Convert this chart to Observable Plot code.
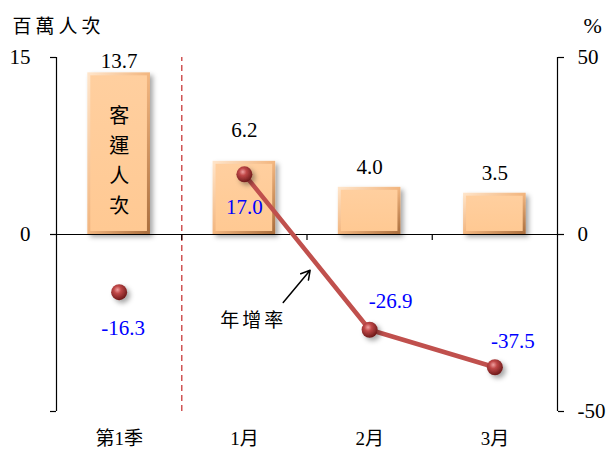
<!DOCTYPE html>
<html>
<head>
<meta charset="utf-8">
<script src="https://cdn.jsdelivr.net/npm/d3@7"></script>
<script src="https://cdn.jsdelivr.net/npm/@observablehq/plot@0.6"></script>
<style>
  html, body { margin: 0; padding: 0; background: #fff; }
  #chart svg { display: block; }
</style>
</head>
<body>
<div id="chart"></div>
<script>
// ---- data ----
const categories = ["第1季", "1月", "2月", "3月"];
const passengers = [13.7, 6.2, 4.0, 3.5];      // 百萬人次 (left axis)
const growth = [-16.3, 17.0, -26.9, -37.5];     // 年增率 % (right axis)
const leftTicks = [15, 0, -15];
const rightTicks = [50, 0, -50];
const annotationText = "年增率";
const barText = "客運人次";
const leftUnit = "百萬人次";
const rightUnit = "%";

// ---- helpers ----
const leftMax = 15, rightMax = 50;
const pct = p => p * leftMax / rightMax;        // map % onto the left scale
const serif = "Liberation Serif, Times New Roman, serif";
const cjk = "Liberation Serif, Noto Sans CJK TC, serif";

const rows = categories.map((c, i) => ({c, i, v: passengers[i], g: growth[i], gy: pct(growth[i])}));
const lineRows = rows.slice(1);
const boundaries = d3.range(1, categories.length).map(i => i - 0.5);

const numLabel = {fontFamily: serif, fontSize: 21, fill: "black"};
const pctLabel = {fontFamily: serif, fontSize: 21, fill: "#0000FF"};

const chart = Plot.plot({
  width: 613,
  height: 450,
  marginLeft: 56,
  marginRight: 56,
  marginTop: 57,
  marginBottom: 39,
  x: {domain: [-0.5, categories.length - 0.5], axis: null},
  y: {domain: [-leftMax, leftMax], axis: null},
  marks: [
    // divider between quarter and months
    Plot.ruleX([boundaries[0]], {y1: -leftMax, y2: leftMax, stroke: "#d05555", strokeWidth: 1.5, strokeDasharray: "6,4"}),
    // bars: bevel edge + face
    Plot.rectY(rows, {x1: d => d.i - 0.25, x2: d => d.i + 0.25, y1: 0, y2: "v", fill: "url(#barEdge)"}),
    Plot.rectY(rows, {x1: d => d.i - 0.25, x2: d => d.i + 0.25, y1: 0, y2: "v", inset: 3, fill: "url(#barFace)"}),
    // axes lines
    Plot.ruleY([0], {stroke: "black", strokeWidth: 1.2}),
    Plot.ruleX(boundaries, {y1: 0, y2: -0.5, stroke: "black", strokeWidth: 1.2}),
    Plot.ruleX([-0.5, categories.length - 0.5], {y1: -leftMax, y2: leftMax, stroke: "black", strokeWidth: 1.2}),
    Plot.axisY({anchor: "left", ticks: leftTicks, tickFormat: d => d === -leftMax ? "" : String(d), tickSize: 6, tickPadding: 20, fontSize: 21, fontFamily: serif, label: null, strokeWidth: 1.2}),
    Plot.axisY({anchor: "right", ticks: rightTicks.map(pct), tickFormat: d => String(Math.round(d * rightMax / leftMax)), tickSize: 6, tickPadding: 14, fontSize: 21, fontFamily: serif, label: null, strokeWidth: 1.2}),
    Plot.axisX({ticks: d3.range(categories.length), tickFormat: i => categories[i], tickSize: 0, tickPadding: 20, fontSize: 19, fontFamily: cjk, label: null}),
    // bar value labels
    Plot.text(rows.filter(d => d.i === 0), {x: "i", y: "v", text: d => d.v.toFixed(1), dy: -12, ...numLabel}),
    Plot.text(rows.filter(d => d.i === 1), {x: "i", y: "v", text: d => d.v.toFixed(1), dy: -31, ...numLabel}),
    Plot.text(rows.filter(d => d.i > 1), {x: "i", y: "v", text: d => d.v.toFixed(1), dy: -20, ...numLabel}),
    // vertical text inside first bar
    Plot.text([rows[0]], {x: "i", y: d => d.v * 0.47, text: () => barText.split("").join("\n"), lineHeight: 1.5, fontSize: 20, fontFamily: cjk, fill: "black"}),
    // growth line & points
    Plot.line(lineRows, {x: "i", y: "gy", stroke: "#C0504D", strokeWidth: 4.5}),
    Plot.dot(rows, {x: "i", y: "gy", r: 8, fill: "url(#sphere)", stroke: "none"}),
    // growth labels
    Plot.text(rows.filter(d => d.i === 0), {x: "i", y: "gy", text: d => d.g.toFixed(1), dx: 4, dy: 36, ...pctLabel}),
    Plot.text(rows.filter(d => d.i === 1), {x: "i", y: "gy", text: d => d.g.toFixed(1), dx: 0, dy: 33, ...pctLabel}),
    Plot.text(rows.filter(d => d.i === 2), {x: "i", y: "gy", text: d => d.g.toFixed(1), dx: 21, dy: -28, ...pctLabel}),
    Plot.text(rows.filter(d => d.i === 3), {x: "i", y: "gy", text: d => d.g.toFixed(1), dx: 18, dy: -26, ...pctLabel}),
    // annotation
    Plot.text([annotationText], {x: 1.07, y: pct(-24.3), text: d => d, fontSize: 19, fontFamily: cjk, fill: "black"}),
    Plot.arrow([0], {x1: 1.31, y1: pct(-19.2), x2: 1.525, y2: pct(-10.1), stroke: "black", strokeWidth: 1.5, headLength: 10}),
    // unit titles
    Plot.text([leftUnit], {frameAnchor: "top-left", dx: -44, dy: -38, text: d => d, textAnchor: "start", fontSize: 19, fontFamily: cjk, fill: "black"}),
    Plot.text([rightUnit], {frameAnchor: "top-right", dx: 26, dy: -40, text: d => d, textAnchor: "start", fontSize: 22, fontFamily: serif, fill: "black"})
  ]
});

// ---- defs: gradients & shadow ----
const svg = d3.select(chart);
const defs = svg.insert("defs", ":first-child");
const edge = defs.append("linearGradient").attr("id", "barEdge").attr("x1", 0).attr("y1", 0).attr("x2", 1).attr("y2", 1);
edge.append("stop").attr("offset", "0%").attr("stop-color", "#ffe6cc");
edge.append("stop").attr("offset", "50%").attr("stop-color", "#f2b680");
edge.append("stop").attr("offset", "100%").attr("stop-color", "#a86c3c");
const face = defs.append("linearGradient").attr("id", "barFace").attr("x1", 0).attr("y1", 0).attr("x2", 0).attr("y2", 1);
face.append("stop").attr("offset", "0%").attr("stop-color", "#ffcf9f");
face.append("stop").attr("offset", "100%").attr("stop-color", "#ffc993");
const sph = defs.append("radialGradient").attr("id", "sphere").attr("cx", "40%").attr("cy", "35%").attr("r", "65%");
sph.append("stop").attr("offset", "0%").attr("stop-color", "#f0a0a0");
sph.append("stop").attr("offset", "35%").attr("stop-color", "#c04848");
sph.append("stop").attr("offset", "100%").attr("stop-color", "#6e1a1a");
const sh = defs.append("filter").attr("id", "shadow").attr("x", "-20%").attr("y", "-20%").attr("width", "150%").attr("height", "150%");
sh.append("feDropShadow").attr("dx", 3).attr("dy", 3).attr("stdDeviation", 2.5).attr("flood-color", "#000").attr("flood-opacity", 0.35);
svg.selectAll('[fill="url(#barEdge)"], [fill="url(#sphere)"]').attr("filter", "url(#shadow)");
svg.selectAll("text").filter(function () { return this.textContent === annotationText; }).attr("letter-spacing", "3px");
svg.selectAll("text").filter(function () { return this.textContent === leftUnit; }).attr("letter-spacing", "4px");

document.getElementById("chart").appendChild(chart);
</script>
</body>
</html>
